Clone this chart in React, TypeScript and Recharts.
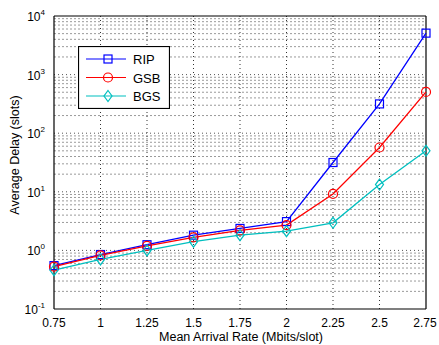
import React from "react";
import {
  LineChart,
  Line,
  XAxis,
  YAxis,
  ReferenceLine,
  Legend,
} from "recharts";

const rates = [0.75, 1, 1.25, 1.5, 1.75, 2, 2.25, 2.5, 2.75];
const ripDelay = [0.55, 0.85, 1.25, 1.82, 2.37, 3.1, 31.6, 316, 5100];
const gsbDelay = [0.53, 0.82, 1.19, 1.67, 2.19, 2.7, 9.2, 57, 507];
const bgsDelay = [0.46, 0.7, 1.0, 1.41, 1.82, 2.13, 2.96, 13.3, 50];

const yTicks = [0.1, 1, 10, 100, 1000, 10000];
const xTicks = [0.75, 1, 1.25, 1.5, 1.75, 2, 2.25, 2.5, 2.75];

const data = rates.map((r, i) => ({
  rate: r,
  RIP: ripDelay[i],
  GSB: gsbDelay[i],
  BGS: bgsDelay[i],
}));

// minor log grid: 2..9 of each decade
const minorY: number[] = [];
for (let d = 0; d < 5; d++) {
  for (let m = 2; m <= 9; m++) minorY.push(m * Math.pow(10, d - 1));
}

const BLUE = "#0000ff";
const RED = "#ff0000";
const CYAN = "#00bfbf";
const FONT = "'Liberation Sans', Arial, sans-serif";

const Square = ({ cx, cy, stroke }: any) => (
  <rect x={cx - 4} y={cy - 4} width={8} height={8} fill="none" stroke={stroke} strokeWidth={1.2} />
);
const Circle = ({ cx, cy, stroke }: any) => (
  <circle cx={cx} cy={cy} r={4.5} fill="none" stroke={stroke} strokeWidth={1.2} />
);
const Diamond = ({ cx, cy, stroke }: any) => (
  <path
    d={`M${cx},${cy - 5.5}L${cx + 4},${cy}L${cx},${cy + 5.5}L${cx - 4},${cy}Z`}
    fill="none"
    stroke={stroke}
    strokeWidth={1.2}
  />
);

const YTick = ({ x, y, payload }: any) => {
  const e = Math.round(Math.log10(payload.value));
  return (
    <text x={x - 7} y={y + 5} textAnchor="end" fontSize={12} fontFamily={FONT} fill="#000">
      <tspan>10</tspan>
      <tspan dy={-6} fontSize={8}>
        {e}
      </tspan>
    </text>
  );
};

const XTick = ({ x, y, payload }: any) => (
  <text x={x} y={y + 18} textAnchor="middle" fontSize={12} fontFamily={FONT} fill="#000">
    {String(payload.value)}
  </text>
);

const series = [
  { name: "RIP", color: BLUE, Marker: Square },
  { name: "GSB", color: RED, Marker: Circle },
  { name: "BGS", color: CYAN, Marker: Diamond },
];

const LegendBox = () => (
  <svg width={92} height={63} style={{ display: "block" }}>
    <rect x={0.5} y={0.5} width={91} height={62} fill="#fff" stroke="#000" strokeWidth={1.2} />
    {series.map((s, i) => {
      const cy = 13 + i * 18.5;
      const M = s.Marker;
      return (
        <g key={s.name}>
          <line x1={8} x2={48} y1={cy} y2={cy} stroke={s.color} strokeWidth={1.2} />
          <M cx={30} cy={cy} stroke={s.color} />
          <text x={55} y={cy + 5} fontSize={13} fontFamily={FONT} fill="#000">
            {s.name}
          </text>
        </g>
      );
    })}
  </svg>
);

export default function App() {
  return (
    <div style={{ position: "absolute", left: 0, top: 0, background: "#fff" }}>
      <LineChart
        width={439}
        height={345}
        data={data}
        margin={{ top: 16, right: 13, left: 0, bottom: 0 }}
      >
        <XAxis
          dataKey="rate"
          type="number"
          domain={[0.75, 2.75]}
          ticks={xTicks}
          tick={<XTick />}
          tickLine={false}
          tickSize={0}
          tickMargin={0}
          axisLine={false}
          height={36}
          label={{
            content: () => (
              <text x={241} y={341} textAnchor="middle" fontSize={12.5} fontFamily={FONT} fill="#000">
                Mean Arrival Rate (Mbits/slot)
              </text>
            ),
          }}
        />
        <YAxis
          type="number"
          scale="log"
          domain={[0.1, 10000]}
          ticks={yTicks}
          tick={<YTick />}
          tickLine={false}
          axisLine={false}
          tickSize={0}
          width={54}
          allowDataOverflow
          label={{
            content: () => (
              <text
                x={19}
                y={155}
                transform="rotate(-90 19 155)"
                textAnchor="middle"
                fontSize={12.5}
                fontFamily={FONT}
                fill="#000"
              >
                Average Delay (slots)
              </text>
            ),
          }}
        />
        {minorY.map((v) => (
          <ReferenceLine key={`m${v}`} y={v} stroke="#9a9a9a" strokeDasharray="2 2" />
        ))}
        {yTicks.slice(1, -1).map((v) => (
          <ReferenceLine key={`M${v}`} y={v} stroke="#555" strokeDasharray="1 3" />
        ))}
        {xTicks.slice(1, -1).map((v) => (
          <ReferenceLine key={`x${v}`} x={v} stroke="#333" strokeDasharray="1 3" />
        ))}
        <ReferenceLine y={0.1} stroke="#000" strokeWidth={1.2} />
        <ReferenceLine y={10000} stroke="#000" strokeWidth={1.2} />
        <ReferenceLine x={0.75} stroke="#000" strokeWidth={1.2} />
        <ReferenceLine x={2.75} stroke="#000" strokeWidth={1.2} />
        {series.map((s) => (
          <Line
            key={s.name}
            dataKey={s.name}
            stroke={s.color}
            strokeWidth={1.3}
            isAnimationActive={false}
            dot={(p: any) => <s.Marker key={`${s.name}${p.index}`} cx={p.cx} cy={p.cy} stroke={s.color} />}
            activeDot={false}
          />
        ))}
        <Legend
          content={<LegendBox />}
          layout="vertical"
          align="center"
          verticalAlign="middle"
          wrapperStyle={{ left: 78, top: 46, width: 92, height: 63 }}
        />
      </LineChart>
    </div>
  );
}
